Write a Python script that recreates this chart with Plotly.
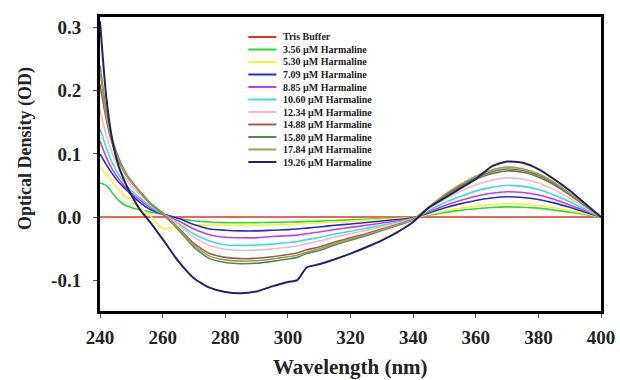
import plotly.graph_objects as go

wavelength = [240, 242, 244, 246, 248, 250, 253, 256, 260, 265, 270, 275, 280, 285, 290, 295,
              300, 303, 306, 310, 315, 320, 325, 330, 335, 340, 345, 350, 355, 360, 365, 370,
              375, 380, 385, 390, 395, 400]

series_names = ["Tris Buffer", "3.56 µM Harmaline", "5.30 µM Harmaline", "7.09 µM Harmaline",
                "8.85 µM Harmaline", "10.60 µM Harmaline", "12.34 µM Harmaline",
                "14.88 µM Harmaline", "15.80 µM Harmaline", "17.84 µM Harmaline",
                "19.26 µM Harmaline"]

tris_buffer = [0.0] * 38

c_3_56 = [0.054, 0.050, 0.038, 0.026, 0.019, 0.015, 0.011, 0.008, 0.004, -0.002, -0.006, -0.008,
          -0.009, -0.009, -0.009, -0.0085, -0.008, -0.0078, -0.007, -0.0065, -0.0055, -0.0045,
          -0.0036, -0.0026, -0.0016, -0.0005, 0.003, 0.007, 0.0105, 0.013, 0.015, 0.016, 0.0155,
          0.014, 0.011, 0.0077, 0.004, 0.0]

c_5_30 = [0.078, 0.068, 0.055, 0.043, 0.033, 0.025, 0.013, 0.002, -0.018, -0.016, -0.013, -0.013,
          -0.013, -0.013, -0.013, -0.012, -0.012, -0.011, -0.0105, -0.0095, -0.008, -0.0065,
          -0.0052, -0.0038, -0.0023, -0.0008, 0.004, 0.0095, 0.0137, 0.017, 0.0197, 0.021, 0.0204,
          0.0183, 0.0147, 0.010, 0.005, 0.0]

c_7_09 = [0.100, 0.083, 0.068, 0.055, 0.045, 0.035, 0.022, 0.012, 0.005, -0.002, -0.012, -0.019,
          -0.021, -0.022, -0.022, -0.021, -0.020, -0.019, -0.0176, -0.0158, -0.0132, -0.011,
          -0.0088, -0.0064, -0.004, -0.0013, 0.0064, 0.0144, 0.0208, 0.0262, 0.030, 0.032, 0.031,
          0.0278, 0.0224, 0.0154, 0.0077, 0.0]

c_8_85 = [0.120, 0.095, 0.075, 0.060, 0.048, 0.038, 0.026, 0.015, 0.005, -0.006, -0.019, -0.028,
          -0.032, -0.033, -0.033, -0.031, -0.0297, -0.0287, -0.0264, -0.0238, -0.0198, -0.0165,
          -0.0132, -0.0096, -0.006, -0.002, 0.008, 0.018, 0.026, 0.0328, 0.0376, 0.040, 0.0388,
          0.0348, 0.028, 0.0192, 0.0096, 0.0]

c_10_60 = [0.140, 0.110, 0.085, 0.067, 0.053, 0.042, 0.029, 0.017, 0.005, -0.010, -0.027, -0.038,
           -0.044, -0.045, -0.0445, -0.043, -0.0405, -0.039, -0.036, -0.0324, -0.027, -0.0225,
           -0.018, -0.013, -0.0081, -0.0027, 0.010, 0.0225, 0.0325, 0.041, 0.047, 0.050, 0.0485,
           0.0435, 0.035, 0.024, 0.012, 0.0]

c_12_34 = [0.170, 0.130, 0.100, 0.078, 0.062, 0.049, 0.034, 0.020, 0.006, -0.012, -0.032, -0.045,
           -0.051, -0.053, -0.0525, -0.0505, -0.0477, -0.046, -0.0424, -0.038, -0.0318, -0.0265,
           -0.0212, -0.0154, -0.0095, -0.0032, 0.0124, 0.028, 0.0403, 0.0508, 0.0583, 0.062,
           0.060, 0.054, 0.0434, 0.0298, 0.0149, 0.0]

c_14_88 = [0.210, 0.155, 0.115, 0.088, 0.069, 0.055, 0.038, 0.022, 0.006, -0.017, -0.042, -0.058,
           -0.064, -0.066, -0.0655, -0.063, -0.0595, -0.057, -0.052, -0.0475, -0.0396, -0.033,
           -0.0264, -0.0191, -0.0119, -0.004, 0.0146, 0.0329, 0.0475, 0.0599, 0.0686, 0.073,
           0.0708, 0.0635, 0.0511, 0.035, 0.0175, 0.0]

c_15_80 = [0.240, 0.168, 0.122, 0.093, 0.072, 0.057, 0.039, 0.022, 0.005, -0.020, -0.048, -0.066,
           -0.072, -0.074, -0.0733, -0.0703, -0.0666, -0.064, -0.058, -0.053, -0.0444, -0.037,
           -0.0296, -0.0215, -0.0133, -0.0044, 0.0152, 0.0342, 0.0494, 0.0623, 0.0714, 0.076,
           0.0737, 0.0661, 0.0532, 0.0365, 0.0182, 0.0]

c_17_84 = [0.230, 0.162, 0.118, 0.090, 0.070, 0.056, 0.039, 0.023, 0.007, -0.018, -0.045, -0.062,
           -0.068, -0.070, -0.0693, -0.0665, -0.063, -0.0605, -0.056, -0.0504, -0.042, -0.035,
           -0.028, -0.0203, -0.0126, -0.0042, 0.0158, 0.0356, 0.0514, 0.0648, 0.0743, 0.079,
           0.0766, 0.0687, 0.0553, 0.0379, 0.019, 0.0]

c_19_26 = [0.310, 0.190, 0.120, 0.080, 0.055, 0.035, 0.010, -0.008, -0.035, -0.070, -0.097, -0.112,
           -0.119, -0.121, -0.118, -0.110, -0.103, -0.100, -0.080, -0.075, -0.067, -0.058, -0.048,
           -0.037, -0.024, -0.008, 0.015, 0.030, 0.045, 0.060, 0.080, 0.088, 0.086, 0.076, 0.060,
           0.042, 0.021, 0.0]

series_values = [tris_buffer, c_3_56, c_5_30, c_7_09, c_8_85, c_10_60, c_12_34,
                 c_14_88, c_15_80, c_17_84, c_19_26]

colors = ["#e8301f", "#2fd82f", "#f4f43a", "#2a2ac8", "#c23fe0", "#3fdcdc", "#f4b8c8",
          "#8a6452", "#4f8a55", "#a89a52", "#23235e"]

x_ticks = [240, 260, 280, 300, 320, 340, 360, 380, 400]
y_ticks = [-0.1, 0.0, 0.1, 0.2, 0.3]
y_tick_labels = ["-0.1", "0.0", "0.1", "0.2", "0.3"]

serif = "Liberation Serif, Times New Roman, serif"

fig = go.Figure()
for name, vals, col in zip(series_names, series_values, colors):
    fig.add_trace(go.Scatter(
        x=wavelength, y=vals, mode="lines", name=name,
        line=dict(color=col, width=2 if col == "#23235e" else 1.6, shape="spline", smoothing=0.6),
        showlegend=False,
    ))

# compact legend (item spacing smaller than plotly's built-in legend allows)
row0_px, row_step_px = 37, 12.5
plot_top, plot_h = 17, 294
for i, (name, col) in enumerate(zip(series_names, colors)):
    yp = (plot_h - (row0_px + i * row_step_px - plot_top)) / plot_h
    fig.add_shape(type="line", xref="paper", yref="paper", x0=0.296, x1=0.352, y0=yp, y1=yp,
                  line=dict(color=col, width=2))
    fig.add_annotation(xref="paper", yref="paper", x=0.362, y=yp, text=name, showarrow=False,
                       xanchor="left", yanchor="middle",
                       font=dict(family=serif, size=10, color="#222", weight="bold"))

# axis titles placed as in the reference
fig.add_annotation(xref="paper", yref="paper", x=-0.15, y=0.554, text="Optical Density (OD)",
                   showarrow=False, textangle=-90, xanchor="center", yanchor="middle",
                   font=dict(family=serif, size=18, color="#222", weight="bold"))
fig.add_annotation(xref="paper", yref="paper", x=0.5, y=-0.19, text="Wavelength (nm)",
                   showarrow=False, xanchor="center", yanchor="middle",
                   font=dict(family=serif, size=21, color="#222", weight="bold"))

fig.update_layout(
    width=620, height=380,
    margin=dict(l=100, r=19, t=17, b=69, autoexpand=False),
    paper_bgcolor="white", plot_bgcolor="white",
    xaxis=dict(range=[240, 400], tickvals=x_ticks, showgrid=False, zeroline=False,
               automargin=False,
               showline=True, linewidth=3, linecolor="black", mirror=True,
               ticks="outside", ticklen=4, tickwidth=1, tickcolor="#555",
               ticklabelstandoff=3,
               tickfont=dict(family=serif, size=19, color="#222", weight="bold")),
    yaxis=dict(range=[-0.149, 0.317], tickvals=y_ticks, ticktext=y_tick_labels,
               showgrid=False, zeroline=False, automargin=False,
               showline=True, linewidth=3, linecolor="black", mirror=True,
               ticks="outside", ticklen=4, tickwidth=1, tickcolor="#555",
               ticklabelstandoff=8,
               tickfont=dict(family=serif, size=19, color="#222", weight="bold")),
)

fig.write_html("out.html")
